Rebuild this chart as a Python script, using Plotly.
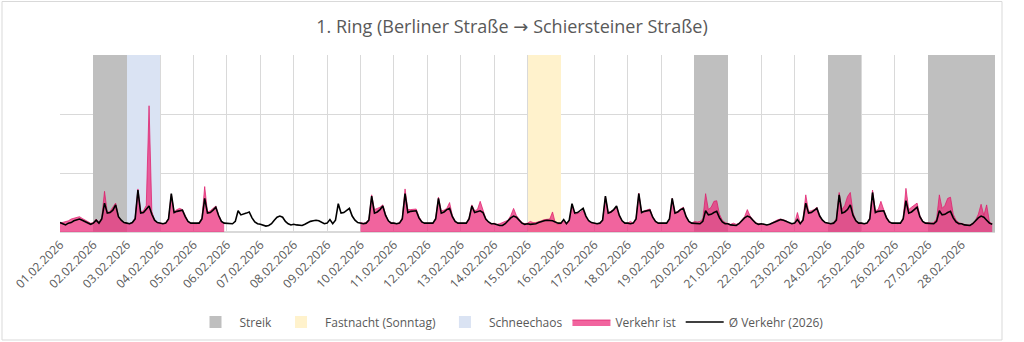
import pandas as pd
import plotly.graph_objects as go

# ---------------- data (2-hour steps, 12 values per day) ----------------
avg_traffic = [
    [16, 14, 12, 15, 16, 19, 20, 22, 20, 18, 15, 13],  # 01.02
    [15, 20, 15, 22, 49, 32, 33, 37, 46, 26, 20, 16],  # 02.02
    [15, 14, 16, 22, 71, 32, 33, 38, 44, 30, 20, 16],  # 03.02
    [15, 14, 15, 22, 65, 33, 35, 36, 37, 26, 18, 15],  # 04.02
    [15, 14, 15, 22, 57, 32, 33, 37, 42, 28, 18, 15],  # 05.02
    [15, 14, 14, 18, 36, 29, 30, 32, 34, 24, 17, 14],  # 06.02
    [13, 11, 10, 11, 14, 20, 25, 27, 25, 18, 14, 12],  # 07.02
    [13, 12, 12, 11, 13, 16, 18, 19, 20, 19, 16, 14],  # 08.02
    [15, 21, 14, 20, 48, 32, 33, 36, 40, 27, 20, 16],  # 09.02
    [15, 14, 15, 20, 61, 32, 34, 38, 44, 28, 19, 15],  # 10.02
    [15, 14, 15, 22, 65, 33, 35, 35, 36, 24, 17, 15],  # 11.02
    [15, 14, 15, 22, 57, 32, 34, 38, 40, 26, 18, 15],  # 12.02
    [15, 14, 15, 22, 44, 33, 35, 36, 33, 22, 17, 14],  # 13.02
    [14, 12, 11, 11, 14, 19, 24, 27, 25, 20, 15, 13],  # 14.02
    [14, 13, 13, 14, 16, 18, 19, 20, 20, 19, 17, 15],  # 15.02
    [15, 21, 14, 20, 48, 32, 33, 36, 40, 27, 19, 16],  # 16.02
    [15, 14, 15, 20, 61, 32, 34, 38, 44, 28, 19, 15],  # 17.02
    [15, 14, 15, 22, 65, 33, 35, 36, 37, 25, 18, 15],  # 18.02
    [15, 14, 15, 22, 57, 32, 34, 38, 40, 26, 18, 15],  # 19.02
    [15, 14, 14, 18, 36, 29, 30, 33, 35, 24, 17, 14],  # 20.02
    [14, 12, 11, 11, 14, 19, 24, 27, 25, 20, 15, 13],  # 21.02
    [14, 13, 12, 13, 15, 18, 20, 21, 20, 18, 15, 14],  # 22.02
    [15, 21, 14, 20, 49, 32, 33, 36, 40, 27, 20, 16],  # 23.02
    [15, 14, 15, 20, 63, 32, 34, 38, 46, 28, 19, 15],  # 24.02
    [15, 14, 15, 22, 67, 33, 35, 36, 36, 24, 17, 15],  # 25.02
    [15, 14, 15, 22, 53, 32, 34, 38, 42, 26, 18, 15],  # 26.02
    [15, 14, 14, 18, 36, 29, 30, 33, 35, 24, 17, 14],  # 27.02
    [14, 12, 11, 11, 14, 19, 24, 27, 25, 20, 15, 13],  # 28.02
]

N = None
actual_traffic = [
    [15, 16, 18, 19, 22, 23, 25, 26, 23, 20, 18, 15],   # 01.02
    [16, 22, 16, 24, 69, 33, 35, 43, 49, 27, 19, 16],   # 02.02
    [15, 14, 17, 24, 73, 34, 36, 45, 214, 35, 20, 16],  # 03.02
    [15, 14, 16, 23, 64, 34, 38, 40, 38, 27, 18, 15],   # 04.02
    [15, 14, 16, 24, 77, 34, 36, 40, 44, 29, 18, 15],   # 05.02
    [N, N, N, N, N, N, N, N, N, N, N, N],               # 06.02
    [N, N, N, N, N, N, N, N, N, N, N, N],               # 07.02
    [N, N, N, N, N, N, N, N, N, N, N, N],               # 08.02
    [N, N, N, N, N, N, N, N, N, N, N, N],               # 09.02
    [16, 15, 16, 22, 63, 38, 40, 42, 46, 30, 19, 16],   # 10.02
    [15, 14, 16, 24, 73, 38, 38, 38, 39, 26, 18, 15],   # 11.02
    [15, 14, 15, 24, 59, 36, 37, 40, 50, 28, 18, 15],   # 12.02
    [15, 14, 15, 24, 46, 36, 38, 52, 36, 23, 17, 14],   # 13.02
    [15, 13, 14, 16, 18, 20, 28, 40, 28, 21, 16, 14],   # 14.02
    [15, 18, 16, 16, 17, 19, 21, 22, 22, 34, 15, 13],   # 15.02
    [14, 18, 13, 18, 44, 30, 31, 33, 37, 25, 18, 15],   # 16.02
    [15, 14, 15, 21, 60, 33, 35, 38, 43, 28, 19, 15],   # 17.02
    [15, 18, 15, 23, 66, 34, 36, 37, 39, 26, 18, 15],   # 18.02
    [15, 14, 15, 22, 57, 33, 35, 39, 42, 27, 18, 15],   # 19.02
    [18, 17, 18, 22, 65, 38, 42, 52, 53, 30, 20, 16],   # 20.02
    [15, 13, 15, 13, 15, 20, 26, 38, 27, 21, 16, 14],   # 21.02
    [14, 13, 12, 13, 16, 19, 21, 22, 21, 19, 15, 14],   # 22.02
    [15, 33, 15, 22, 63, 35, 36, 38, 42, 28, 20, 16],   # 23.02
    [15, 14, 16, 23, 67, 38, 45, 60, 67, 32, 20, 16],   # 24.02
    [15, 14, 15, 24, 71, 36, 38, 52, 38, 26, 18, 15],   # 25.02
    [15, 14, 15, 24, 74, 38, 42, 46, 49, 28, 19, 15],   # 26.02
    [16, 15, 16, 22, 63, 40, 45, 57, 59, 30, 20, 16],   # 27.02
    [14, 13, 12, 12, 15, 20, 30, 47, 28, 46, 17, 14],   # 28.02
]

streik_days = ["2026-02-02", "2026-02-20", "2026-02-24", "2026-02-27", "2026-02-28"]
fastnacht_days = ["2026-02-15"]
schnee_days = ["2026-02-03"]

tick_dates = ["2026-02-%02d" % d for d in range(1, 29)] + ["2026-03-01"]
tick_labels = [
    "01.02.2026", "02.02.2026", "03.02.2026", "04.02.2026", "05.02.2026",
    "06.02.2026", "07.02.2026", "08.02.2026", "09.02.2026", "10.02.2026",
    "11.02.2026", "12.02.2026", "13.02.2026", "14.02.2026", "15.02.2026",
    "16.02.2026", "17.02.2026", "18.02.2026", "19.02.2026", "20.02.2026",
    "21.02.2026", "22.02.2026", "23.02.2026", "24.02.2026", "25.02.2026",
    "26.02.2026", "27.02.2026", "28.02.2026", "",
]

Y_MAX = 300

# ---------------- build ----------------
avg_flat = [v for day in avg_traffic for v in day]
act_flat = [v for day in actual_traffic for v in day]
times = pd.date_range("2026-02-01 00:00", periods=len(avg_flat), freq="2h")

# split actual series into contiguous segments (no fill across missing days)
segments = []
cur_x, cur_y = [], []
for t, v in zip(times, act_flat):
    if v is None:
        if cur_x:
            segments.append((cur_x, cur_y))
            cur_x, cur_y = [], []
    else:
        cur_x.append(t)
        cur_y.append(v)
if cur_x:
    segments.append((cur_x, cur_y))

DAY_MS = 86400000


def day_centers(days):
    return [pd.Timestamp(d) + pd.Timedelta(hours=12) for d in days]


fig = go.Figure()
fig.add_trace(go.Bar(x=day_centers(streik_days), y=[Y_MAX] * len(streik_days),
                     width=[DAY_MS] * len(streik_days), name="Streik",
                     marker=dict(color="#BFBFBF", line=dict(width=0)), hoverinfo="skip"))
fig.add_trace(go.Bar(x=day_centers(fastnacht_days), y=[Y_MAX] * len(fastnacht_days),
                     width=[DAY_MS] * len(fastnacht_days), name="Fastnacht (Sonntag)",
                     marker=dict(color="#FFF2CC", line=dict(width=0)), hoverinfo="skip"))
fig.add_trace(go.Bar(x=day_centers(schnee_days), y=[Y_MAX] * len(schnee_days),
                     width=[DAY_MS] * len(schnee_days), name="Schneechaos",
                     marker=dict(color="#DAE3F3", line=dict(width=0)), hoverinfo="skip"))
for i, (sx, sy) in enumerate(segments):
    fig.add_trace(go.Scatter(x=sx, y=sy, name="Verkehr ist", mode="lines",
                             legendgroup="ist", showlegend=(i == 0),
                             fill="tozeroy", fillcolor="rgba(236,40,120,0.72)",
                             line=dict(color="rgba(222,25,105,0.9)", width=0.8)))
fig.add_trace(go.Scatter(x=times, y=avg_flat, name="Ø Verkehr (2026)", mode="lines",
                         line=dict(color="#000000", width=1.6)))

L, R, T, B = 60, 29, 55, 110
W, H = 1024, 342
pw, ph = W - L - R, H - T - B


def px_x(x):
    return (x - L) / pw


def px_y(y):
    return (H - B - y) / ph


title_text = ("1. Ring (Berliner Straße "
              "<span style='font-family:DejaVu Sans'>→</span>"
              " Schiersteiner Straße)")

fig.update_layout(
    width=W, height=H,
    margin=dict(l=L, r=R, t=T, b=B, autoexpand=False),
    paper_bgcolor="white", plot_bgcolor="white",
    font=dict(family="Open Sans", color="#595959", size=12),
    title=dict(text=title_text,
               x=512 / W, xref="container", xanchor="center",
               y=1 - 27 / H, yref="container", yanchor="middle",
               font=dict(family="Open Sans", size=18, color="#595959")),
    barmode="overlay", bargap=0,
    showlegend=True,
    legend=dict(orientation="h", x=px_x(510), xanchor="center",
                y=px_y(322), yanchor="middle", itemwidth=38,
                font=dict(size=12, color="#595959"), bgcolor="rgba(0,0,0,0)"),
    xaxis=dict(type="date", range=["2026-02-01", "2026-03-01"],
               tickmode="array", tickvals=tick_dates, ticktext=tick_labels,
               tickangle=-45, tickfont=dict(size=12, color="#595959"),
               showgrid=True, gridcolor="#D9D9D9", gridwidth=1, automargin=False,
               showline=True, linecolor="#D9D9D9", ticks="", zeroline=False),
    yaxis=dict(range=[0, Y_MAX], dtick=100, showticklabels=False, automargin=False,
               showgrid=True, gridcolor="#D9D9D9", gridwidth=1,
               zeroline=True, zerolinecolor="#D9D9D9", ticks=""),
    shapes=[dict(type="rect", xref="paper", yref="paper",
                 x0=px_x(2), x1=px_x(1002), y0=px_y(340), y1=px_y(1.5),
                 line=dict(color="#D9D9D9", width=1), layer="below")],
)

fig.write_html("out.html")
